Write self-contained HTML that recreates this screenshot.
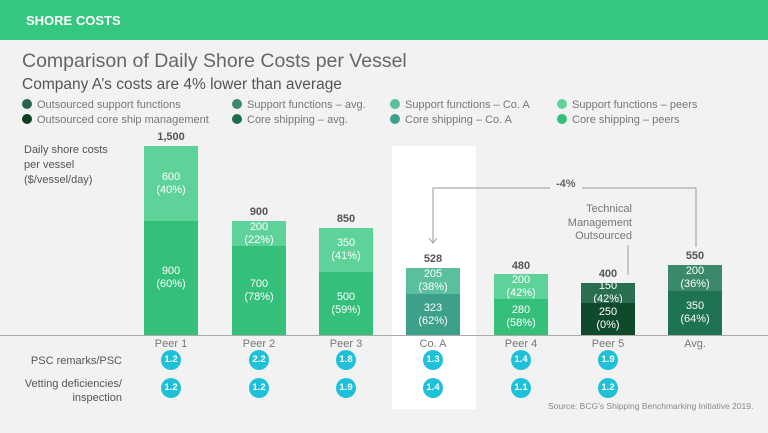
<!DOCTYPE html>
<html><head><style>
body{margin:0;width:768px;height:433px;background:#f2f2f2;font-family:"Liberation Sans",sans-serif;overflow:hidden;position:relative}
.a{position:absolute}
.hdr{left:0;top:0;width:768px;height:40px;background:#35c680}
.bar{position:absolute;width:54px;color:#fff;font-size:11px;text-align:center;line-height:13px;display:flex;flex-direction:column;justify-content:center}
.tot{position:absolute;width:54px;text-align:center;font-size:11px;font-weight:bold;color:#555}
.lab{position:absolute;width:54px;text-align:center;font-size:11px;color:#777;top:338px}
.c{position:absolute;width:20px;height:20px;border-radius:50%;background:#1fc1d8;color:#fff;font-size:9.5px;font-weight:bold;text-align:center;line-height:20px}
.lg{position:absolute;font-size:11px;color:#777;white-space:nowrap}
.lg i{display:inline-block;width:10px;height:10px;border-radius:50%;margin-right:5px;vertical-align:-1px}
</style></head><body>
<div class="a hdr"></div>
<div class="a" style="left:26px;top:13px;color:#fff;font-weight:bold;font-size:13px">SHORE COSTS</div>
<div class="a" style="left:22px;top:50px;font-size:19.5px;color:#666">Comparison of Daily Shore Costs per Vessel</div>
<div class="a" style="left:22px;top:76px;font-size:15.5px;color:#555">Company A’s costs are 4% lower than average</div>
<div class="lg" style="left:22px;top:99px"><i style="background:#26664a"></i>Outsourced support functions</div>
<div class="lg" style="left:22px;top:114px"><i style="background:#0c3f23"></i>Outsourced core ship management</div>
<div class="lg" style="left:232px;top:99px"><i style="background:#3a8a6a"></i>Support functions – avg.</div>
<div class="lg" style="left:232px;top:114px"><i style="background:#1a6e4a"></i>Core shipping  – avg.</div>
<div class="lg" style="left:390px;top:99px"><i style="background:#5bbf9f"></i>Support functions – Co. A</div>
<div class="lg" style="left:390px;top:114px"><i style="background:#3da08a"></i>Core shipping – Co. A</div>
<div class="lg" style="left:557px;top:99px"><i style="background:#5dd39a"></i>Support functions – peers</div>
<div class="lg" style="left:557px;top:114px"><i style="background:#34c07a"></i>Core shipping – peers</div>
<div class="a" style="left:392px;top:146px;width:84px;height:263px;background:#fff"></div>
<div class="a" style="left:24px;top:143px;font-size:11px;color:#555;line-height:15px">Daily shore costs<br>per vessel<br>($/vessel/day)</div>

<div class="tot" style="left:144px;top:131px">1,500</div>
<div class="bar" style="left:144px;top:146px;height:75px;background:#5dd39a">600<br>(40%)</div>
<div class="bar" style="left:144px;top:221px;height:114px;background:#34c07a">900<br>(60%)</div>

<div class="tot" style="left:232px;top:206px">900</div>
<div class="bar" style="left:232px;top:221px;height:25px;background:#5dd39a">200<br>(22%)</div>
<div class="bar" style="left:232px;top:246px;height:89px;background:#34c07a">700<br>(78%)</div>

<div class="tot" style="left:319px;top:213px">850</div>
<div class="bar" style="left:319px;top:228px;height:44px;background:#5dd39a">350<br>(41%)</div>
<div class="bar" style="left:319px;top:272px;height:63px;background:#34c07a">500<br>(59%)</div>

<div class="tot" style="left:406px;top:253px">528</div>
<div class="bar" style="left:406px;top:268px;height:26px;background:#5bbf9f">205<br>(38%)</div>
<div class="bar" style="left:406px;top:294px;height:41px;background:#3da08a">323<br>(62%)</div>

<div class="tot" style="left:494px;top:260px">480</div>
<div class="bar" style="left:494px;top:274px;height:25px;background:#5dd39a">200<br>(42%)</div>
<div class="bar" style="left:494px;top:299px;height:36px;background:#34c07a">280<br>(58%)</div>

<div class="tot" style="left:581px;top:268px">400</div>
<div class="bar" style="left:581px;top:283px;height:20px;background:#2a6e50">150<br>(42%)</div>
<div class="bar" style="left:581px;top:303px;height:32px;background:#0f4a2c">250<br>(0%)</div>

<div class="tot" style="left:668px;top:250px">550</div>
<div class="bar" style="left:668px;top:265px;height:26px;background:#3a8a6a">200<br>(36%)</div>
<div class="bar" style="left:668px;top:291px;height:44px;background:#1e7350">350<br>(64%)</div>

<div class="a" style="left:0;top:335px;width:768px;height:1px;background:#aaa"></div>
<svg class="a" style="left:0;top:0" width="768" height="433">
<polyline points="433,242 433,188 550,188" fill="none" stroke="#999" stroke-width="1"/>
<polyline points="582,188 696,188 696,247" fill="none" stroke="#999" stroke-width="1"/>
<polyline points="429,238 433,243 437,238" fill="none" stroke="#999"/>
<line x1="628" y1="245" x2="628" y2="275" stroke="#999"/>
</svg>
<div class="a" style="left:556px;top:178px;font-size:11px;font-weight:bold;color:#666">-4%</div>
<div class="a" style="left:552px;top:203px;font-size:11px;color:#777;text-align:right;width:80px;line-height:13.5px">Technical<br>Management<br>Outsourced</div>

<div class="lab" style="left:144px">Peer 1</div>
<div class="lab" style="left:232px">Peer 2</div>
<div class="lab" style="left:319px">Peer 3</div>
<div class="lab" style="left:406px">Co. A</div>
<div class="lab" style="left:494px">Peer 4</div>
<div class="lab" style="left:581px">Peer 5</div>
<div class="lab" style="left:668px">Avg.</div>

<div class="a" style="left:0;width:122px;text-align:right;top:355px;font-size:11px;color:#555">PSC remarks/PSC</div>
<div class="a" style="left:0;width:122px;text-align:right;top:377px;font-size:11px;color:#555;line-height:14px">Vetting deficiencies/<br>inspection</div>
<div class="c" style="left:161px;top:350px">1.2</div>
<div class="c" style="left:249px;top:350px">2.2</div>
<div class="c" style="left:336px;top:350px">1.8</div>
<div class="c" style="left:423px;top:350px">1.3</div>
<div class="c" style="left:511px;top:350px">1.4</div>
<div class="c" style="left:598px;top:350px">1.9</div>
<div class="c" style="left:161px;top:378px">1.2</div>
<div class="c" style="left:249px;top:378px">1.2</div>
<div class="c" style="left:336px;top:378px">1.9</div>
<div class="c" style="left:423px;top:378px">1.4</div>
<div class="c" style="left:511px;top:378px">1.1</div>
<div class="c" style="left:598px;top:378px">1.2</div>
<div class="a" style="left:548px;top:401px;font-size:8.5px;color:#888">Source: BCG’s Shipping Benchmarking Initiative 2019.</div>
</body></html>
